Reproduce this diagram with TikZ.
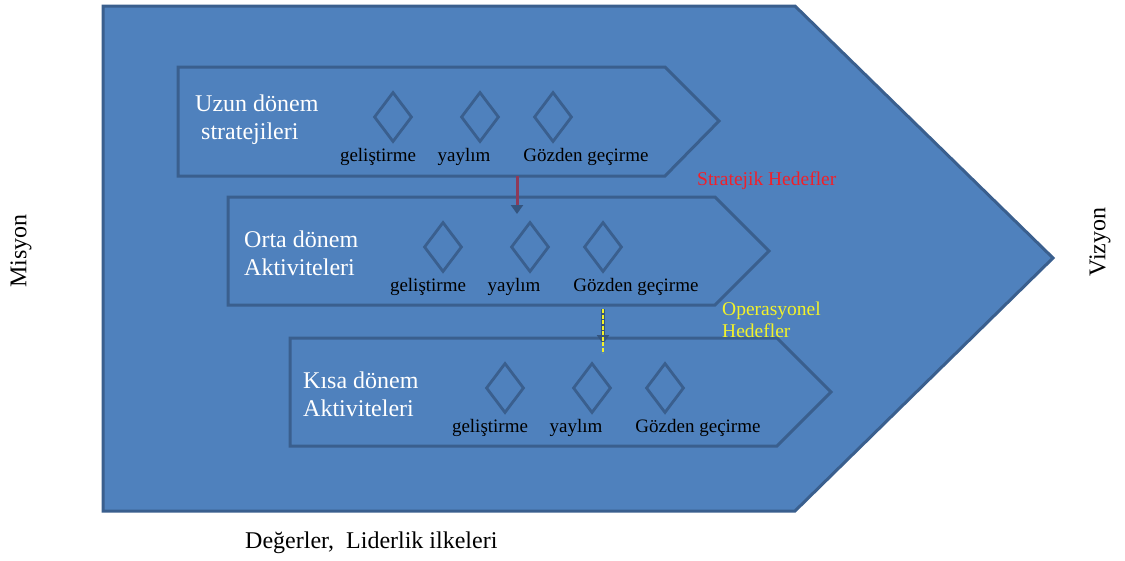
\documentclass[tikz,border=0pt]{standalone}
\usepackage{fontspec}
\setmainfont{Liberation Serif}
\usetikzlibrary{arrows.meta}
\definecolor{panelblue}{HTML}{4F81BD}
\definecolor{edgeblue}{HTML}{3A5F8E}
\definecolor{headblue}{HTML}{34557F}
\definecolor{linkred}{HTML}{8E3A58}
\definecolor{goalred}{HTML}{F0202A}
\definecolor{goalyellow}{HTML}{F2F22A}
\tikzset{
  bigpanel/.style={fill=panelblue, draw=edgeblue, line width=3pt, line join=miter},
  stagepanel/.style={draw=edgeblue, line width=3pt, line join=miter},
  phase/.style={draw=edgeblue, line width=2.8pt, shape=diamond, minimum width=38pt, minimum height=50pt, inner sep=0pt},
  stagetitle/.style={text=white, align=left, anchor=west, inner sep=0pt, font=\fontsize{24}{28}\selectfont},
  phaselabel/.style={text=black, inner sep=0pt, font=\fontsize{19}{20}\selectfont},
  sidelabel/.style={text=black, inner sep=0pt, font=\fontsize{24}{28}\selectfont, rotate=90},
  goal/.style={inner sep=0pt, align=left, anchor=west, font=\fontsize{19.5}{22}\selectfont},
}
\usetikzlibrary{shapes.geometric}
\begin{document}
\begin{tikzpicture}[x=1pt,y=-1pt]
\path[use as bounding box, fill=white] (0,0) rectangle (1125,560);

% outer arrow: mission to vision
\draw[bigpanel] (103,6) -- (795,6) -- (1053,258) -- (795,511) -- (103,511) -- cycle;

% three stage arrows
\draw[stagepanel] (178,67) -- (665,67) -- (719,121) -- (665,176) -- (178,176) -- cycle;
\draw[stagepanel] (228,197) -- (715,197) -- (769,251) -- (715,305) -- (228,305) -- cycle;
\draw[stagepanel] (290,338) -- (777,338) -- (831,392) -- (777,446) -- (290,446) -- cycle;

% stage titles
\node[stagetitle] (t1) at (195,120) {Uzun dönem\\\ stratejileri};
\node[stagetitle] (t2) at (244,253) {Orta dönem\\Aktiviteleri};
\node[stagetitle] (t3) at (303,394) {Kısa dönem\\Aktiviteleri};

% phase diamonds and their labels
\foreach \dx/\dy [count=\s] in {0/0, 50/130, 112/271} {
  \node[phase] (d\s a) at (393+\dx,117+\dy) {};
  \node[phase] (d\s b) at (480+\dx,117+\dy) {};
  \node[phase] (d\s c) at (553+\dx,117+\dy) {};
  \node[phaselabel] (l\s a) at (378+\dx,157+\dy) {geliştirme};
  \node[phaselabel] (l\s b) at (464+\dx,157+\dy) {yaylım};
  \node[phaselabel] (l\s c) at (586+\dx,157+\dy) {Gözden geçirme};
}

% links between stages
\coordinate (s1) at (517,176);
\coordinate (e1) at (517,214);
\coordinate (s2) at (603,309);
\coordinate (e2) at (603,344);
\draw[linkred, line width=3pt, -{Triangle[width=12pt,length=9pt,fill=headblue,color=headblue]}] (s1) -- (e1);
\draw[headblue, line width=3.5pt, -{Triangle[width=12pt,length=9pt]}] (s2) -- (e2);
\draw[goalyellow, line width=1.6pt, dash pattern=on 4pt off 1.5pt] (s2) -- ([yshift=-9pt]e2);

% goal captions
\node[goal, text=goalred] (g1) at (697,181) {Stratejik Hedefler};
\node[goal, text=goalyellow] (g2) at (722,320) {Operasyonel\\Hedefler};

% surrounding captions
\node[sidelabel] (mis) at (21,251) {Misyon};
\node[sidelabel] (viz) at (1100,242) {Vizyon};
\node[text=black, inner sep=0pt, anchor=west, font=\fontsize{24}{28}\selectfont] (val) at (245,543) {Değerler,\ \ Liderlik ilkeleri};
\end{tikzpicture}
\end{document}
